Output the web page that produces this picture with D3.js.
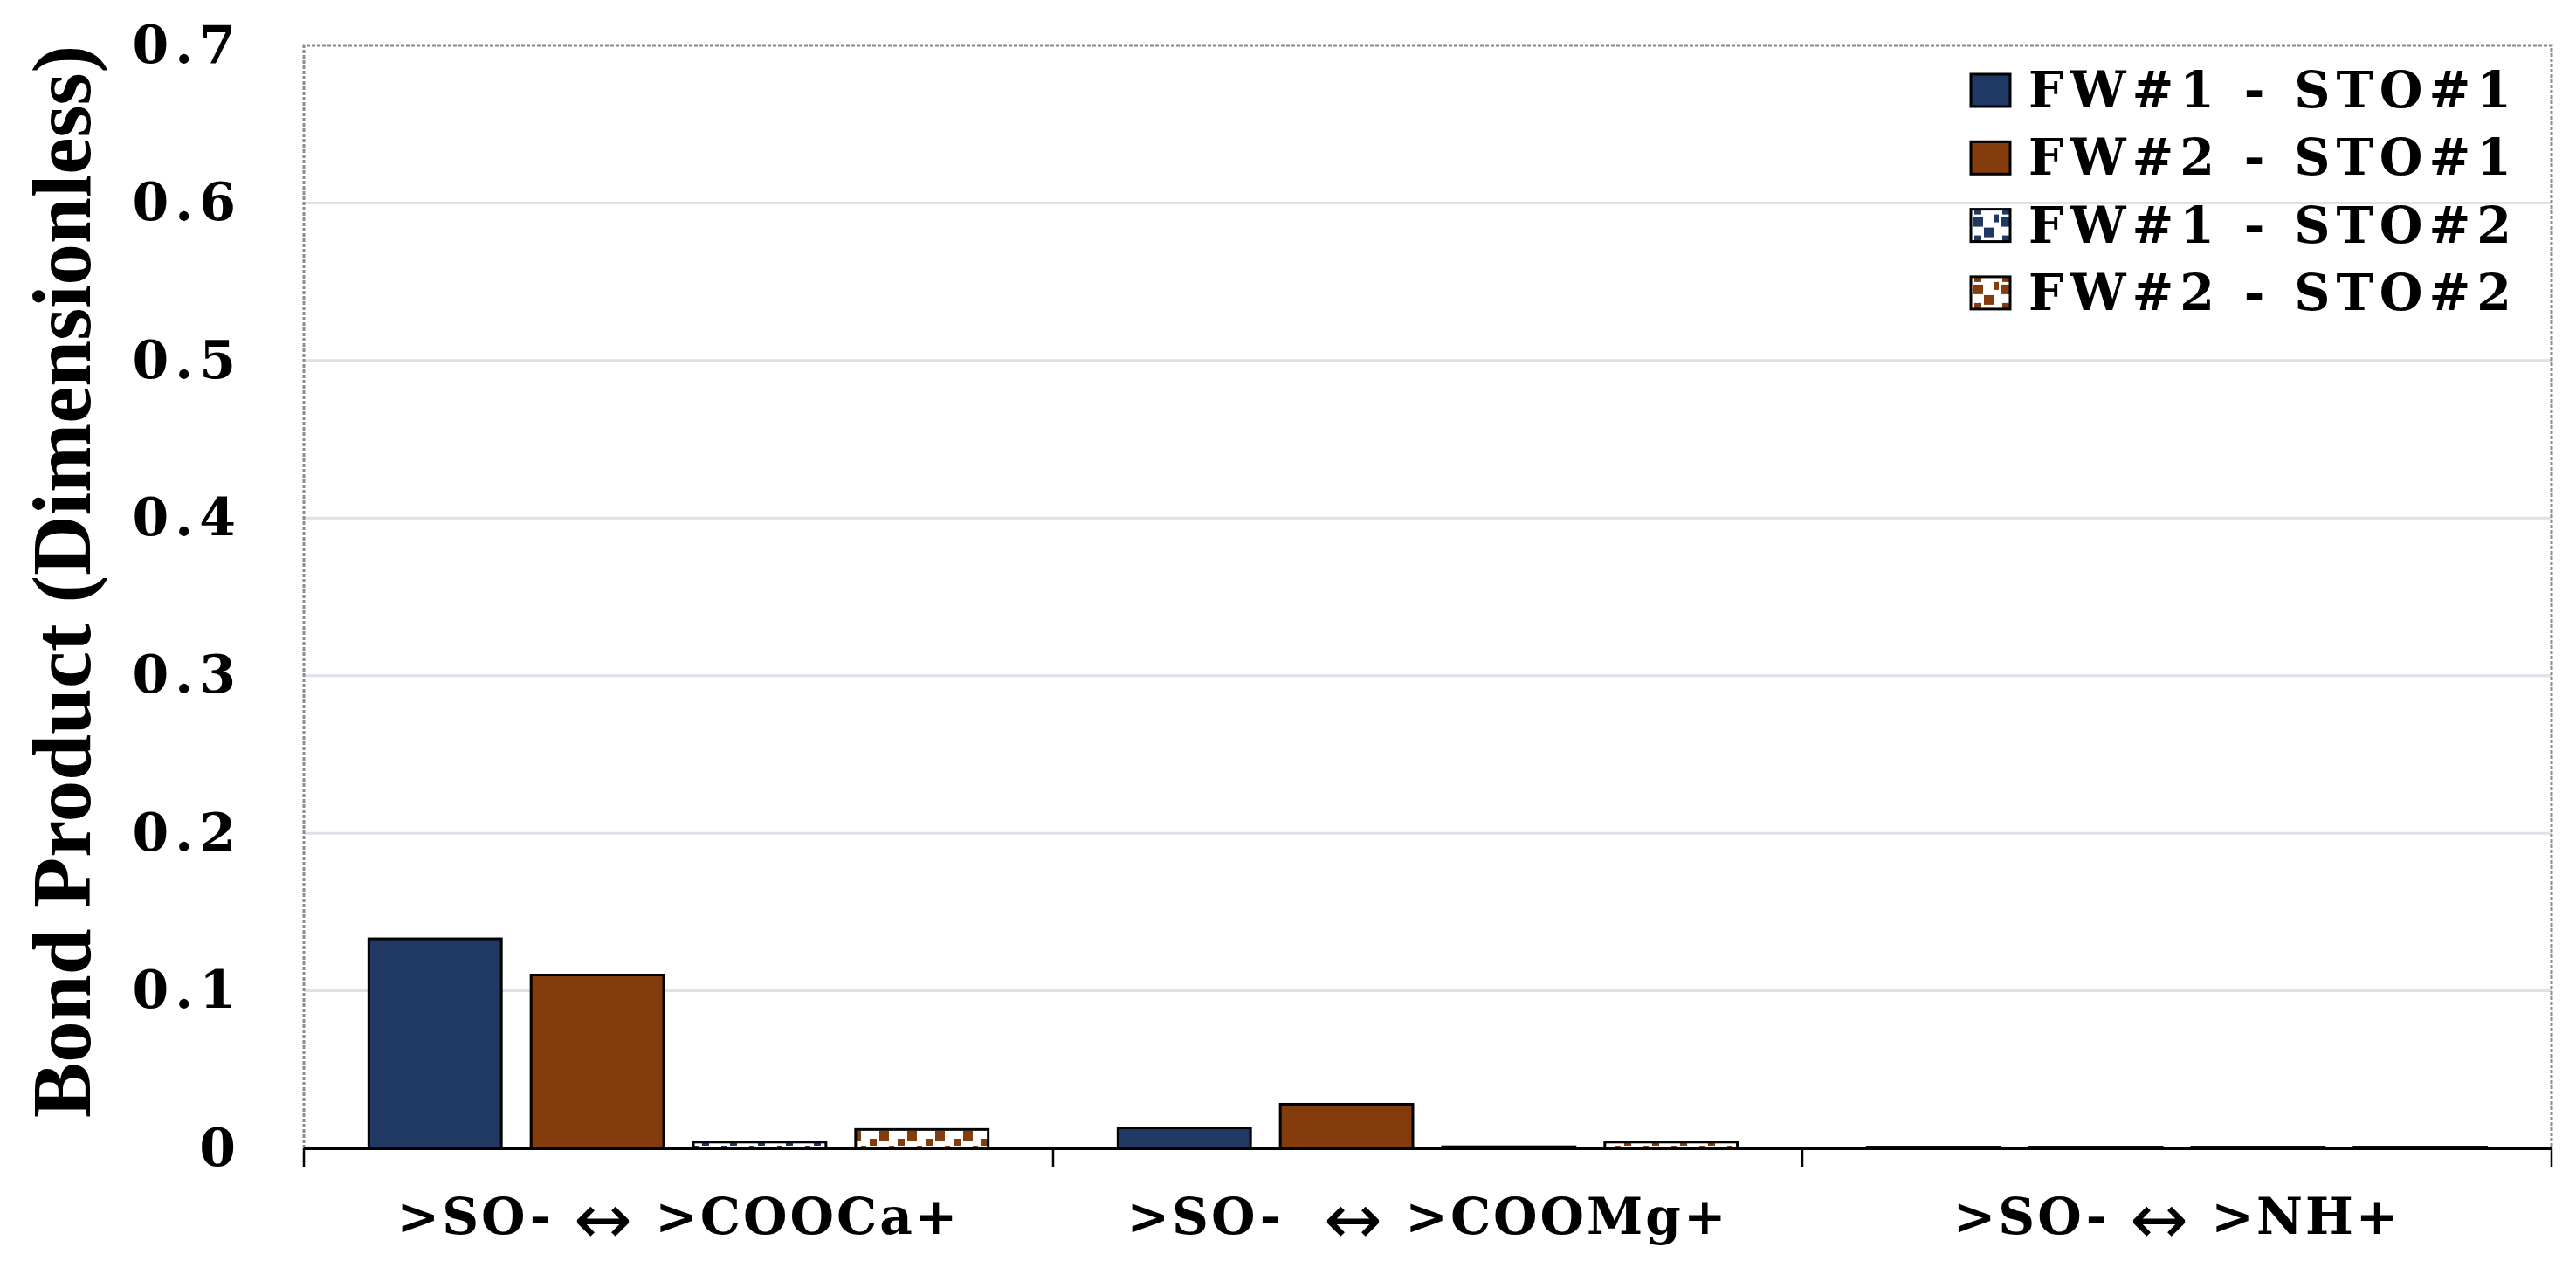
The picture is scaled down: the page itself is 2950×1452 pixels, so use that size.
<!DOCTYPE html>
<meta charset="utf-8">
<head>
<title>Bond Product</title>
<script src="https://d3js.org/d3.v7.min.js"></script>
<style>
  body { margin: 0; background: #fff; }
</style>
</head>
<body>
<div id="chart"></div>
<script>

// categories (the arrow is drawn in a thin weight)
var categories = [">SO- \u2194 >COOCa+", ">SO-  \u2194 >COOMg+", ">SO- \u2194 >NH+"];
var seriesNames = ["FW#1 - STO#1", "FW#2 - STO#1", "FW#1 - STO#2", "FW#2 - STO#2"];

// one value per category for every series
var fw1sto1 = [0.133, 0.013, 0.0008];
var fw2sto1 = [0.110, 0.028, 0.0008];
var fw1sto2 = [0.004, 0.001, 0.0008];
var fw2sto2 = [0.012, 0.004, 0.0008];
var seriesValues = [fw1sto1, fw2sto1, fw1sto2, fw2sto2];

var yTicks = [0, 0.1, 0.2, 0.3, 0.4, 0.5, 0.6, 0.7];

// plot box
var W = 2950, H = 1452;
var plotLeft = 348, plotRight = 2922, plotTop = 52, plotBottom = 1315;

var svg = d3.select("#chart")
  .append("svg")
  .attr("width", W)
  .attr("height", H)
  .style("display", "block");

svg.append("rect").attr("width", W).attr("height", H).attr("fill", "#fff");

// patterns for the STO#2 series
var defs = svg.append("defs");
[["hatchBlue", "#203864"], ["hatchBrown", "#843C0C"]].forEach(function(p) {
  var pat = defs.append("pattern")
    .attr("id", p[0])
    .attr("patternUnits", "userSpaceOnUse")
    .attr("width", 32)
    .attr("height", 32);
  pat.append("rect").attr("width", 32).attr("height", 32).attr("fill", "#fff");
  [[3, 3, 11, 11], [15, 15, 11, 11], [26, 0, 6, 9], [4, 24, 8, 8]].forEach(function(r) {
    pat.append("rect")
      .attr("x", r[0]).attr("y", r[1])
      .attr("width", r[2]).attr("height", r[3])
      .attr("fill", p[1]);
  });
});
var fills = ["#203864", "#843C0C", "url(#hatchBlue)", "url(#hatchBrown)"];

// scales
var x = d3.scaleBand()
  .domain(categories)
  .range([plotLeft, plotRight]);

var xs = d3.scaleBand()
  .domain(seriesNames)
  .range([0, x.bandwidth()])
  .paddingInner(0.183)
  .paddingOuter(0.4);

var y = d3.scaleLinear()
  .domain([0, 0.7])
  .range([plotBottom, plotTop]);

// gridlines
svg.append("g")
  .selectAll("line")
  .data(yTicks.filter(function(d) { return d > 0 && d < 0.7; }))
  .enter()
  .append("line")
  .attr("x1", plotLeft)
  .attr("x2", plotRight)
  .attr("y1", function(d) { return y(d); })
  .attr("y2", function(d) { return y(d); })
  .attr("stroke", "#dde2ea")
  .attr("stroke-width", 3);

// dotted plot border
svg.append("path")
  .attr("d", "M" + plotLeft + "," + plotBottom + "V" + plotTop + "H" + plotRight + "V" + plotBottom)
  .attr("fill", "none")
  .attr("stroke", "#8c8c8c")
  .attr("stroke-width", 3)
  .attr("stroke-dasharray", "4,2");

// bars
seriesNames.forEach(function(name, i) {
  svg.append("g")
    .selectAll("rect")
    .data(seriesValues[i])
    .enter()
    .append("rect")
    .attr("x", function(d, j) { return x(categories[j]) + xs(name); })
    .attr("y", function(d) { return y(d); })
    .attr("width", xs.bandwidth())
    .attr("height", function(d) { return y(0) - y(d); })
    .attr("fill", fills[i])
    .attr("stroke", "#000")
    .attr("stroke-width", 3);
});

// Y axis labels
var yAxis = svg.append("g")
  .attr("transform", "translate(" + plotLeft + ",0)")
  .call(d3.axisLeft(y).tickValues(yTicks).tickSize(0).tickPadding(71)
    .tickFormat(function(d) { return d === 0 ? "0" : d3.format(".1f")(d); }));
yAxis.select(".domain").remove();
yAxis.selectAll("text")
  .attr("font-family", "DejaVu Serif")
  .attr("font-weight", "bold")
  .attr("font-size", 60)
  .attr("letter-spacing", 7)
  .attr("fill", "#000");

// X axis line and boundary ticks
svg.append("line")
  .attr("x1", plotLeft).attr("x2", plotRight)
  .attr("y1", y(0)).attr("y2", y(0))
  .attr("stroke", "#000")
  .attr("stroke-width", 4);

svg.append("g")
  .selectAll("line")
  .data(categories.map(function(c) { return x(c); }).concat([plotRight]))
  .enter()
  .append("line")
  .attr("x1", function(d) { return d; })
  .attr("x2", function(d) { return d; })
  .attr("y1", y(0))
  .attr("y2", y(0) + 21)
  .attr("stroke", "#000")
  .attr("stroke-width", 2.5);

// X category labels
var xLabels = svg.append("g")
  .selectAll("text")
  .data(categories)
  .enter()
  .append("text")
  .attr("x", function(d) { return x(d) + x.bandwidth() / 2; })
  .attr("y", 1413)
  .attr("text-anchor", "middle")
  .attr("font-family", "DejaVu Serif")
  .attr("font-weight", "bold")
  .attr("font-size", 58)
  .attr("letter-spacing", 3)
  .style("white-space", "pre")
  .attr("fill", "#000");

xLabels.each(function(d) {
  var parts = d.split("\u2194");
  var t = d3.select(this);
  t.append("tspan").text(parts[0]);
  t.append("tspan")
    .attr("font-family", "DejaVu Sans")
    .attr("font-weight", "normal")
    .attr("font-size", 80)
    .attr("dy", 11)
    .text("\u2194");
  t.append("tspan").attr("dy", -11).text(parts[1]);
});

// Y axis title
svg.append("text")
  .attr("transform", "translate(103," + 666 + ") rotate(-90)")
  .attr("text-anchor", "middle")
  .attr("font-family", "Liberation Serif")
  .attr("font-weight", "bold")
  .attr("font-size", 95)
  .attr("fill", "#000")
  .text("Bond Product (Dimensionless)");

// legend
var legend = svg.append("g")
  .selectAll("g")
  .data(seriesNames)
  .enter()
  .append("g")
  .attr("transform", function(d, i) { return "translate(2257," + (123 + i * 77.3) + ")"; });

legend.append("rect")
  .attr("x", 0)
  .attr("y", -38)
  .attr("width", 45)
  .attr("height", 37)
  .attr("fill", function(d, i) { return fills[i]; })
  .attr("stroke", "#000")
  .attr("stroke-width", 3);

legend.append("text")
  .attr("x", 66)
  .attr("y", 0)
  .attr("font-family", "DejaVu Serif")
  .attr("font-weight", "bold")
  .attr("font-size", 57)
  .attr("letter-spacing", 7)
  .attr("fill", "#000")
  .text(function(d) { return d; });

</script>
</body>
